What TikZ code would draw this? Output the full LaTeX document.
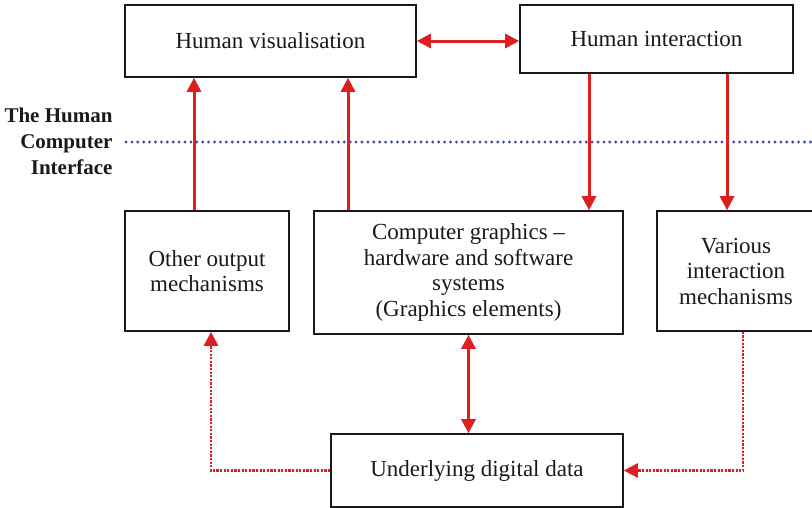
\documentclass[tikz,border=0pt]{standalone}
\usepackage{fontspec}
\setmainfont{Liberation Serif}
\usetikzlibrary{arrows.meta}
\definecolor{arred}{HTML}{DD1F1F}
\definecolor{hciblue}{HTML}{3F4FA3}
\definecolor{ink}{HTML}{1A1A1A}
\begin{document}
\begin{tikzpicture}[x=1pt,y=-1pt,
  box/.style={draw=ink,line width=1.6pt,fill=white,align=center,inner sep=0pt,
    font=\fontsize{23}{25.5}\selectfont,text=ink},
  arr/.style={draw=arred,line width=3pt,-{Triangle[length=14pt,width=14pt]}},
  darr/.style={draw=arred,line width=3pt,{Triangle[length=14pt,width=14pt]}-{Triangle[length=14pt,width=14pt]}},
  dotarr/.style={draw=arred,line width=2.6pt,dash pattern=on 2.2pt off 1.4pt,-{Triangle[length=14pt,width=14pt]}},
  hci/.style={draw=hciblue,line width=3.2pt,line cap=round,dash pattern=on 0pt off 5.9pt}]
\clip (0,0) rectangle (812,507);
\fill[white] (0,0) rectangle (812,507);
% interface line
\coordinate (ls) at (126,142);
\coordinate (le) at (812,142);
\draw[hci] (ls) -- (le);
\node[anchor=east,align=right,font=\fontsize{21}{26}\selectfont\bfseries,text=ink] (lab) at (116,141) {The Human\\Computer\\Interface};
% boxes
\node[box,minimum width=291pt,minimum height=72pt] (HV) at (270.5,41) {Human visualisation};
\node[box,minimum width=273pt,minimum height=68pt] (HI) at (656.5,39) {Human interaction};
\node[box,minimum width=164pt,minimum height=120pt] (OO) at (207,271) {Other output\\mechanisms};
\node[box,minimum width=309pt,minimum height=123pt] (CG) at (468.5,272.5) {Computer graphics --\\hardware and software\\systems\\(Graphics elements)};
\node[box,minimum width=158pt,minimum height=120pt] (VI) at (736,271) {Various\\interaction\\mechanisms};
\node[box,minimum width=292pt,minimum height=73pt] (UD) at (477,470.5) {Underlying digital data};
% connectors
\draw[darr] (HV.east) -- (HV.east -| HI.west);
\draw[arr] ([xshift=-13pt]OO.north) -- ([xshift=-13pt]OO.north |- HV.south);
\draw[arr] ([xshift=-120.5pt]CG.north) -- ([xshift=-120.5pt]CG.north |- HV.south);
\draw[arr] ([xshift=-67.5pt]HI.south) -- ([xshift=-67.5pt]HI.south |- CG.north);
\draw[arr] ([xshift=70.5pt]HI.south) -- ([xshift=70.5pt]HI.south |- VI.north);
\draw[darr] (CG.south) -- (CG.south |- UD.north);
\draw[dotarr] (UD.west) -| ([xshift=4pt]OO.south);
\draw[dotarr] ([xshift=7pt]VI.south) |- (UD.east);
\end{tikzpicture}
\end{document}
